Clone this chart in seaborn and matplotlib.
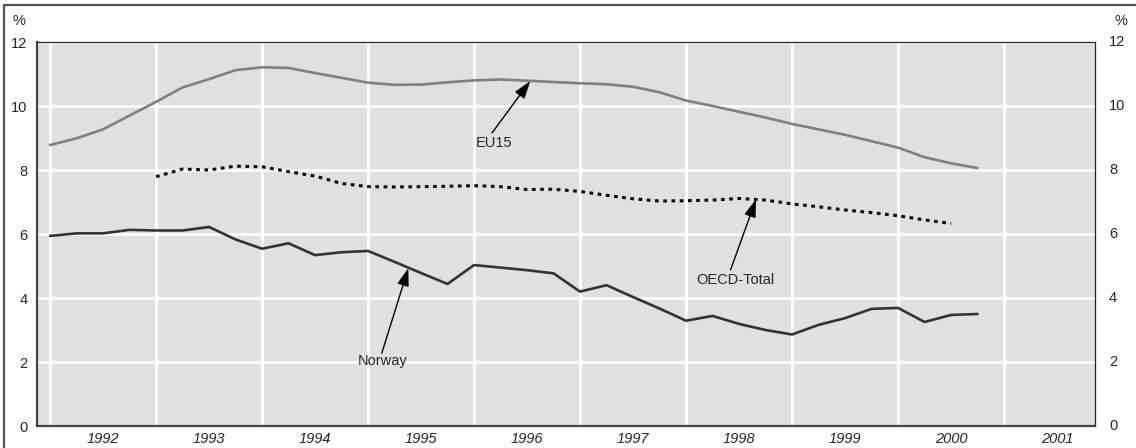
import matplotlib
matplotlib.use('Agg')
import matplotlib.pyplot as plt
from matplotlib.lines import Line2D
import numpy as np
import pandas as pd
import seaborn as sns

# Quarterly unemployment rates, 1992Q1 - 2000Q4
years = list(range(1992, 2001))
quarters = [y + q / 4 for y in years for q in range(4)]

eu15 = [8.78, 8.99, 9.27, 9.70, 10.13, 10.58, 10.84, 11.12, 11.21, 11.19, 11.03, 10.88,
        10.73, 10.66, 10.67, 10.74, 10.80, 10.83, 10.79, 10.75, 10.71, 10.68, 10.60, 10.43,
        10.17, 10.00, 9.82, 9.64, 9.44, 9.27, 9.10, 8.90, 8.70, 8.40, 8.21, 8.06]
oecd = [np.nan, np.nan, np.nan, np.nan,
        7.79, 8.03, 8.00, 8.12, 8.10, 7.95, 7.81, 7.58, 7.48, 7.47, 7.48, 7.49,
        7.51, 7.48, 7.39, 7.40, 7.33, 7.21, 7.10, 7.03, 7.04, 7.06, 7.11, 7.06,
        6.94, 6.85, 6.75, 6.67, 6.57, 6.44, 6.33, np.nan]
norway = [5.94, 6.02, 6.02, 6.13, 6.11, 6.11, 6.22, 5.83, 5.54, 5.71, 5.34, 5.43,
          5.47, 5.13, 4.78, 4.44, 5.03, 4.95, 4.87, 4.77, 4.20, 4.40, 4.03, 3.67,
          3.29, 3.44, 3.19, 3.00, 2.86, 3.16, 3.37, 3.66, 3.69, 3.25, 3.47, 3.50]

tick_years = list(range(1992, 2002))
y_ticks = [0, 2, 4, 6, 8, 10, 12]

df = pd.DataFrame({'quarter': quarters, 'EU15': eu15, 'OECD-Total': oecd, 'Norway': norway})
long = df.melt(id_vars='quarter', var_name='series', value_name='rate').dropna()

sns.set_style('darkgrid', {'axes.facecolor': '#e0e0e0', 'grid.color': 'white'})
plt.rcParams['font.family'] = ['Liberation Sans', 'DejaVu Sans']

fig = plt.figure(figsize=(11.36, 4.48), dpi=100)
ax = fig.add_axes([37 / 1136, 22 / 448, (1095 - 37) / 1136, (426 - 42) / 448])

palette = {'EU15': '#808080', 'OECD-Total': '#000000', 'Norway': '#333333'}
dashes = {'EU15': '', 'OECD-Total': (1.2, 1.5), 'Norway': ''}
sns.lineplot(data=long, x='quarter', y='rate', hue='series', style='series',
             hue_order=['EU15', 'OECD-Total', 'Norway'], palette=palette, dashes=dashes,
             linewidth=1.9, legend=False, ax=ax)
for line in ax.lines:
    if line.get_color() == '#000000':
        line.set_linewidth(2.2)
        line.set_dash_capstyle('butt')

ax.set_xlim(1991.877, 2001.858)
ax.set_ylim(0, 12)
ax.set_xticks(tick_years)
ax.set_xticklabels([])
ax.set_xticks([y + 0.5 for y in tick_years], minor=True)
ax.set_xticklabels([str(y) for y in tick_years], minor=True, style='italic', fontsize=10.5)
ax.tick_params(axis='x', which='both', length=0, pad=4)
ax.grid(True, which='major', color='white', linewidth=2)
ax.grid(False, which='minor')
ax.set_yticks(y_ticks)
ax.tick_params(axis='y', length=0, labelsize=10.5, pad=7,
               labelleft=True, labelright=False)
ax.set_xlabel('')
ax.set_ylabel('')

for y in y_ticks:
    ax.text(1.0, y, str(y), transform=ax.get_yaxis_transform(), fontsize=10.5,
            ha='left', va='center')
# shift right-side labels
for t in ax.texts:
    t.set_x(1.0 + 14 / 1058)

fig.text(19 / 1136, 1 - 21 / 448, '%', fontsize=10.5, ha='center', va='center')
fig.text(1121 / 1136, 1 - 21 / 448, '%', fontsize=10.5, ha='center', va='center')

for side in ['left', 'bottom']:
    ax.spines[side].set_visible(True)
    ax.spines[side].set_color('#444444')
    ax.spines[side].set_linewidth(1.6)
for side in ['top', 'right']:
    ax.spines[side].set_visible(True)
    ax.spines[side].set_color('#222222')
    ax.spines[side].set_linewidth(0.9)

arrow = dict(arrowstyle='-|>,head_length=0.9,head_width=0.3', color='black',
             lw=1, shrinkA=0, shrinkB=0, mutation_scale=12)
ax.annotate('', xy=(1996.53, 10.78), xytext=(1996.17, 9.16), arrowprops=arrow)
ax.text(1996.19, 8.84, 'EU15', fontsize=10.5, ha='center', va='center')
ax.annotate('', xy=(1998.66, 7.08), xytext=(1998.42, 4.88), arrowprops=arrow)
ax.text(1998.47, 4.56, 'OECD-Total', fontsize=10.5, ha='center', va='center')
ax.annotate('', xy=(1995.38, 4.93), xytext=(1995.13, 2.28), arrowprops=arrow)
ax.text(1995.14, 2.03, 'Norway', fontsize=10.5, ha='center', va='center')

# outer frame fragments
fig.add_artist(Line2D([4 / 1136, 4 / 1136], [0, 1 - 5.5 / 448], color='#555555', lw=1.6))
fig.add_artist(Line2D([4 / 1136, 1], [1 - 5.5 / 448, 1 - 5.5 / 448], color='#555555', lw=1.6))

fig.savefig('out.png', dpi=100)
